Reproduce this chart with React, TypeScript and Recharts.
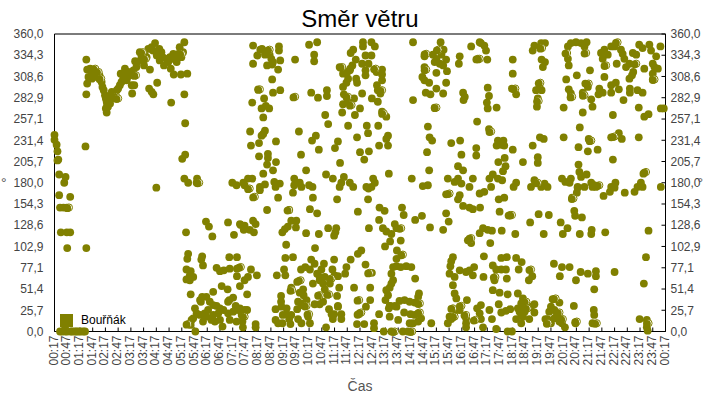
import { ScatterChart, Scatter, XAxis, YAxis, CartesianGrid, Legend, ReferenceLine, Label } from 'recharts'

const OLIVE = '#808000'

const tickLabels = [
  '00:17', '00:47', '01:17', '01:47', '02:17', '02:47', '03:17', '03:47', '04:17', '04:47', '05:17', '05:47',
  '06:17', '06:47', '07:17', '07:47', '08:17', '08:47', '09:17', '09:47', '10:17', '10:47', '11:17', '11:47',
  '12:17', '12:47', '13:17', '13:47', '14:17', '14:47', '15:17', '15:47', '16:17', '16:47', '17:17', '17:47',
  '18:17', '18:47', '19:17', '19:47', '20:17', '20:47', '21:17', '21:47', '22:17', '22:47', '23:17', '23:47', '00:17',
]
const minuteTicks = tickLabels.map((_, i) => i * 30)
const degreeTicks = [0, 25.7, 51.4, 77.1, 102.9, 128.6, 154.3, 180, 205.7, 231.4, 257.1, 282.9, 308.6, 334.3, 360]

// [minutes after 00:17, wind direction in degrees]
const earlyStart = [
  [0, 238], [0, 232], [5, 226], [7, 218], [9, 208], [7, 207], [11, 190], [26, 187], [23, 180], [11, 165], [37, 163],
  [13, 150], [21, 150], [29, 150], [15, 120], [29, 120], [37, 120], [30, 101], [75, 101],
  [13, 0], [18, 0], [25, 0], [30, 0], [38, 0], [42, 0], [48, 0], [52, 0], [57, 0], [62, 0], [68, 0], [72, 0], [25, 4],
  [75, 329], [73, 224], [75, 287],
]
const nightRise = [
  [77, 317], [84, 318], [80, 308], [77, 300], [88, 314], [91, 316], [95, 311], [88, 306], [99, 308], [106, 310], [107, 306],
  [111, 302], [113, 296], [116, 292], [119, 286], [121, 282], [123, 278], [124, 274], [121, 270], [123, 265], [129, 280],
  [131, 276], [134, 282], [138, 286], [142, 288], [150, 294], [154, 298], [158, 302], [156, 312], [162, 306], [166, 318],
  [168, 310], [174, 314], [170, 304], [178, 310], [182, 298], [188, 298], [183, 288], [186, 316], [190, 327], [193, 320],
  [201, 338], [205, 332], [211, 322], [209, 328], [217, 332], [221, 342], [229, 344], [225, 317], [223, 294], [229, 290],
  [233, 287], [242, 301], [237, 349], [247, 342], [241, 334], [252, 338], [248, 328], [258, 322], [264, 330], [272, 332],
  [274, 318], [280, 336], [284, 330], [288, 326], [281, 311], [298, 311], [313, 312], [306, 350], [295, 344], [303, 338],
  [299, 332], [275, 277], [306, 287], [308, 252], [308, 214], [301, 209], [306, 185], [315, 180], [336, 185], [335, 180],
  [240, 174], [419, 180], [429, 177], [126, 272], [127, 284], [135, 290], [147, 292], [165, 312], [172, 308], [195, 326],
  [213, 334], [232, 340], [245, 336], [255, 332], [268, 326], [278, 330], [292, 336],
]
const morning = [
  [310, 120], [315, 94], [313, 88], [311, 75], [321, 73], [319, 68], [311, 63], [327, 66], [319, 62], [321, 45], [357, 133],
  [364, 127], [372, 115], [409, 132], [437, 130], [423, 117], [348, 91], [346, 87], [350, 80], [382, 77], [390, 73], [399, 74],
  [412, 90], [413, 76], [430, 76], [430, 90], [430, 67], [437, 55], [394, 55], [408, 51], [374, 48], [343, 38], [348, 42],
  [358, 42], [345, 36], [366, 36], [331, 28], [374, 32], [382, 31], [390, 28], [412, 38], [421, 41], [409, 36], [427, 31],
  [335, 22], [343, 20], [354, 22], [362, 26], [374, 20], [386, 22], [398, 26], [409, 22], [421, 24], [433, 26], [323, 14],
  [350, 12], [370, 14], [390, 14], [396, 6], [413, 14], [429, 12], [332, 0], [321, 8], [327, 16], [358, 18], [378, 12],
  [439, 129], [448, 128], [468, 134], [474, 130], [446, 123], [460, 123], [470, 120], [437, 28], [448, 26], [454, 26],
  [441, 20], [443, 12], [444, 5], [474, 9], [474, 5], [463, 75], [477, 68], [456, 66], [448, 62], [454, 45],
  [468, 346], [489, 342], [485, 341], [529, 345], [529, 340], [478, 334], [496, 335], [507, 335], [511, 330], [468, 324],
  [515, 326], [501, 322], [513, 323], [532, 328], [527, 317], [513, 305], [480, 293], [515, 289], [532, 292], [494, 282],
  [466, 277], [488, 270], [498, 273], [506, 270], [492, 259], [461, 242], [496, 243], [492, 239], [488, 237], [522, 230],
  [463, 225], [482, 228], [482, 212], [503, 215], [503, 210], [501, 202], [522, 205], [492, 191], [515, 195], [445, 180],
  [456, 185], [466, 185], [448, 177], [484, 175], [496, 178], [518, 181], [531, 179], [521, 175], [484, 171], [527, 162],
  [501, 147], [524, 68], [534, 43], [534, 36], [535, 30], [521, 27], [521, 14], [527, 10], [538, 20], [537, 10],
]
const midday = [
  [567, 329], [600, 347], [619, 350], [612, 335], [612, 327], [605, 289], [621, 283], [642, 292], [642, 285], [638, 262],
  [645, 251], [576, 242], [616, 237], [607, 231], [668, 230], [661, 222], [623, 220], [581, 214], [673, 204], [593, 195],
  [640, 190], [656, 185], [565, 185], [565, 177], [578, 180], [582, 175], [600, 177], [608, 175], [682, 187], [676, 180],
  [672, 175], [696, 180], [704, 175], [562, 168], [609, 162], [666, 160], [553, 147], [602, 148], [619, 143], [558, 134],
  [570, 134], [543, 124], [550, 127], [537, 120], [569, 126], [593, 119], [623, 118], [645, 125], [664, 125], [662, 120],
  [659, 116], [546, 105], [614, 101], [544, 89], [562, 90], [659, 87], [605, 87], [613, 82], [635, 82], [541, 75], [544, 68],
  [581, 75], [591, 78], [602, 75], [619, 70], [629, 75], [625, 66], [637, 66], [655, 75], [660, 68], [668, 67], [688, 78],
  [685, 70], [572, 60], [625, 62], [609, 58], [633, 58], [649, 58], [671, 53], [558, 53], [586, 51], [578, 47], [587, 44],
  [637, 51], [666, 43], [594, 38], [586, 34], [633, 36], [625, 33], [613, 33], [668, 31], [574, 36], [582, 32], [572, 27],
  [647, 27], [547, 28], [598, 18], [547, 21], [558, 20], [553, 15], [574, 15], [582, 10], [556, 9], [602, 10], [640, 5],
  [653, 21], [659, 21], [656, 15], [676, 21], [676, 15], [668, 30], [704, 341], [698, 337], [727, 350], [727, 345], [747, 350],
  [755, 345], [733, 334], [747, 334], [710, 329], [702, 322], [697, 318], [672, 320], [680, 312], [690, 314], [696, 316],
  [692, 306], [688, 301], [680, 296], [725, 324], [740, 324], [733, 316], [733, 310], [711, 306], [713, 301], [759, 314],
  [772, 317], [772, 311], [772, 304], [760, 298], [762, 292], [768, 288], [682, 287], [706, 282], [725, 288], [748, 282],
  [762, 278], [692, 278], [680, 275], [678, 265], [720, 270], [708, 262], [772, 266], [782, 260], [692, 249], [736, 249],
  [763, 249], [713, 235], [739, 240], [786, 237], [782, 233], [786, 225], [765, 225], [720, 217], [741, 218], [730, 208],
  [788, 191], [751, 185], [735, 175], [747, 175], [755, 180], [740, 173], [739, 160], [715, 145], [766, 150], [778, 146],
  [765, 135], [741, 125], [774, 125], [782, 121], [794, 118], [791, 109], [779, 103], [723, 98], [715, 94], [698, 87], [733, 81],
  [748, 71], [706, 53], [744, 53], [791, 31], [744, 38], [734, 30], [765, 21], [713, 9], [730, 9], [753, 10], [753, 4],
  [782, 50], [786, 44], [780, 38], [790, 31], [790, 53], [794, 58], [794, 70], [798, 62], [798, 78], [790, 18], [788, 28],
]
const afternoon = [
  [845, 350], [910, 350], [917, 341], [872, 333], [892, 335], [900, 330], [912, 335], [923, 329], [896, 326], [908, 324],
  [916, 322], [872, 320], [900, 313], [925, 315], [867, 308], [872, 304], [883, 301], [923, 301], [900, 294], [875, 289],
  [886, 287], [916, 288], [845, 280], [896, 271], [880, 248], [884, 235], [890, 231], [878, 217], [883, 195], [842, 185],
  [868, 176], [880, 177], [927, 185], [951, 200], [963, 195], [935, 228], [956, 231], [959, 214], [951, 185], [943, 181],
  [959, 179], [978, 175], [986, 185], [996, 254], [994, 222], [994, 213], [955, 333], [953, 324], [982, 345], [1002, 350],
  [963, 289], [967, 284], [964, 280], [819, 150], [823, 141], [866, 140], [850, 135], [923, 143], [929, 133], [885, 126],
  [916, 123], [963, 152], [978, 150], [986, 148], [802, 130], [806, 125], [816, 110], [807, 98], [806, 88], [806, 79], [829, 79],
  [841, 78], [816, 78], [850, 64], [813, 37], [825, 38], [837, 36], [849, 35], [859, 46], [857, 42], [806, 30], [802, 31],
  [824, 23], [810, 14], [839, 21], [845, 10], [837, 10], [888, 10], [927, 10], [864, 16], [857, 12], [849, 20], [776, 0],
  [794, 0], [821, 0], [833, 0], [982, 107], [923, 166], [955, 165], [951, 160], [939, 90], [935, 85], [933, 79], [931, 70],
  [943, 66], [955, 74], [970, 72], [978, 74], [986, 68], [989, 78], [939, 56], [943, 46], [947, 40], [972, 38], [996, 28],
  [931, 18], [955, 26], [947, 26], [935, 15], [970, 16], [970, 10], [970, 5], [1002, 22],
  [1005, 349], [1013, 346], [1017, 340], [1020, 329], [1080, 329], [1080, 312], [1021, 295], [1024, 285], [1019, 277], [1021, 270],
  [1042, 271], [1078, 294], [1088, 287], [1024, 245], [1045, 231], [1058, 231], [1042, 225], [1053, 226], [1060, 225], [1080, 220],
  [1061, 210], [1046, 205], [1063, 200], [1057, 194], [1104, 205], [1033, 190], [1025, 185], [1045, 185], [1055, 183], [1029, 175],
  [1088, 180], [1082, 175], [1013, 169], [1002, 167], [1060, 162], [1047, 160], [1003, 150], [1049, 145], [1010, 125], [1002, 119],
  [1021, 123], [1031, 122], [1054, 122], [1086, 118], [1027, 107], [1012, 91], [1053, 89], [1066, 90], [1088, 89], [1101, 84],
  [1033, 80], [1041, 75], [1053, 75], [1064, 75], [1094, 75], [1011, 66], [1037, 62], [1066, 64], [1033, 50], [1049, 47],
  [1068, 45], [1092, 46], [1047, 33], [1005, 32], [1025, 26], [1074, 27], [1064, 25], [1053, 23], [1005, 15], [1031, 15],
  [1010, 5], [1041, 3], [1068, 0], [1078, 0],
]
const evening = [
  [1104, 40], [1100, 34], [1092, 28], [1108, 30], [1096, 24], [1108, 24], [1088, 15], [1100, 10], [1104, 18], [1119, 15],
  [1131, 23], [1131, 33], [1123, 30], [1100, 20], [1126, 67], [1118, 62], [1121, 132], [1141, 142], [1165, 141], [1153, 118],
  [1193, 132], [1209, 125], [1198, 118], [1238, 118], [1225, 146], [1227, 140], [1243, 138], [1266, 123], [1265, 118], [1298, 120],
  [1177, 82], [1196, 78], [1214, 78], [1191, 67], [1229, 62], [1240, 72], [1257, 70], [1276, 73], [1276, 67], [1320, 72],
  [1272, 51], [1224, 31], [1271, 26], [1272, 20], [1268, 10], [1228, 10], [1174, 39], [1190, 35], [1170, 30], [1166, 24],
  [1184, 20], [1162, 15], [1157, 15], [1170, 10], [1178, 16], [1190, 12], [1196, 10], [1203, 5], [1178, 26], [1220, 162],
  [1231, 168], [1233, 174], [1294, 164], [1309, 169], [1320, 174], [1344, 168], [1367, 169], [1400, 122], [1394, 90], [1389, 58],
  [1379, 15], [1396, 14], [1396, 5], [1398, 1],
  [1131, 346], [1127, 340], [1147, 349], [1156, 349], [1148, 329], [1156, 326], [1151, 320], [1143, 296], [1135, 292], [1148, 292],
  [1139, 282], [1137, 272], [1127, 225], [1144, 235], [1153, 233], [1139, 211], [1139, 204], [1131, 183], [1123, 175], [1147, 175],
  [1155, 179], [1162, 175], [1200, 271], [1206, 305], [1212, 322], [1210, 330], [1212, 293], [1217, 288], [1210, 345], [1217, 349],
  [1229, 350], [1241, 349], [1254, 350], [1249, 345], [1231, 310], [1262, 316], [1251, 300], [1257, 296], [1245, 289], [1265, 281],
  [1268, 272], [1245, 265], [1200, 235], [1259, 233], [1238, 247], [1235, 223], [1257, 218], [1280, 220], [1235, 202], [1237, 193],
  [1254, 190], [1241, 187], [1196, 185], [1204, 181], [1217, 185], [1214, 180], [1233, 175], [1249, 175], [1265, 180], [1272, 177],
  [1268, 175], [1276, 175], [1296, 341], [1288, 337], [1292, 330], [1304, 335], [1312, 345], [1320, 345], [1335, 341], [1339, 336],
  [1325, 324], [1343, 330], [1347, 320], [1355, 324], [1296, 308], [1363, 337], [1371, 335], [1378, 347], [1386, 343], [1364, 314],
  [1355, 306], [1361, 310], [1402, 347], [1406, 340], [1428, 345], [1418, 333], [1410, 324], [1390, 318], [1414, 320], [1422, 318],
  [1410, 312], [1410, 305], [1312, 298], [1323, 301], [1330, 293], [1312, 289], [1284, 294], [1292, 289], [1282, 287], [1341, 280],
  [1356, 294], [1356, 289], [1374, 292], [1386, 289], [1377, 271], [1316, 262], [1390, 260], [1400, 263], [1429, 270], [1436, 270],
  [1312, 235], [1330, 240], [1337, 233], [1377, 235], [1316, 208], [1388, 191], [1322, 180], [1312, 175], [1382, 180], [1374, 175],
  [1386, 175], [1429, 175],
]
// readings that show the lighter ring beside the dot
const ringed = [
  [34, 150], [146, 284], [341, 180], [315, 9], [460, 173], [472, 163], [507, 341], [484, 293], [567, 284], [678, 320], [692, 284],
  [700, 274], [757, 318], [772, 292], [776, 264], [876, 336], [905, 341], [876, 317], [900, 271], [998, 330], [439, 78], [448, 18],
  [553, 147], [594, 31], [600, 21], [560, 50], [580, 62], [625, 44], [647, 45], [653, 64], [718, 38], [718, 21], [723, 23], [743, 71],
  [821, 93], [817, 125], [861, 34], [861, 23], [843, 0], [802, 0], [931, 167], [939, 28], [959, 31], [943, 18], [970, 20], [992, 14],
  [978, 111], [982, 113], [1002, 330], [1029, 242], [1086, 294], [1149, 343], [1145, 301], [1141, 279], [1139, 180], [1208, 337],
  [1220, 284], [1253, 337], [1259, 300], [1249, 286], [1265, 231], [1284, 177], [1327, 350], [1300, 322], [1371, 324], [1414, 305],
  [1320, 236], [1394, 193], [1074, 141], [1078, 141], [1123, 75], [1039, 66], [1112, 36], [1115, 28], [1181, 40], [1190, 23],
  [1164, 10], [1198, 15], [1223, 161], [1231, 12], [1278, 10], [1400, 10], [96, 318], [104, 314], [110, 306], [150, 282], [192, 310],
  [215, 330], [208, 338], [300, 336],
]

const toPoints = (rows: number[][]) => rows.map(([t, d]) => ({ t, d }))
const dots = toPoints([...earlyStart, ...nightRise, ...morning, ...midday, ...afternoon, ...evening])
const rings = toPoints(ringed)

const Dot = ({ cx, cy }: any) => <circle cx={cx} cy={cy} r={3.9} fill={OLIVE} />

const RingDot = ({ cx, cy }: any) => (
  <g>
    <circle cx={cx} cy={cy} r={3.6} fill="#fff" stroke={OLIVE} strokeWidth={1} />
    <circle cx={cx - 1.6} cy={cy + 0.6} r={3.9} fill={OLIVE} />
  </g>
)

const NoMark = () => null

const MinuteTick = ({ x, y, index }: any) => (
  <text
    transform={`translate(${x + 3} ${y + 6}) rotate(-90)`}
    textAnchor="end"
    fontSize={12}
    fill="#444"
    fontFamily="Liberation Sans"
  >
    {tickLabels[index]}
  </text>
)

const formatDegree = (v: number) => v.toFixed(1).replace('.', ',')
const axisFont = { fontSize: 12, fill: '#444', fontFamily: 'Liberation Sans' }

export default function App() {
  return (
    <div style={{ position: 'absolute', left: 0, top: 0, width: 720, height: 400, background: '#fff' }}>
      <div
        style={{
          position: 'absolute',
          left: 0,
          top: 5,
          width: 720,
          textAlign: 'center',
          fontFamily: 'Liberation Sans',
          fontSize: 24,
          lineHeight: '28px',
        }}
      >
        Směr větru
      </div>
      <ScatterChart width={720} height={400} margin={{ top: 34, right: 0, bottom: 0, left: 0 }}>
        <CartesianGrid horizontal vertical={false} stroke="#eeeeee" />
        <XAxis
          type="number"
          dataKey="t"
          domain={[0, 1440]}
          ticks={minuteTicks}
          interval={0}
          tick={<MinuteTick />}
          tickSize={-4}
          height={68.5}
          stroke="#000"
          tickLine={{ stroke: '#000' }}
        >
          <Label value="Čas" position="insideBottom" offset={9} fontSize={14} fill="#555" fontFamily="Liberation Sans" />
        </XAxis>
        <YAxis
          yAxisId="left"
          type="number"
          dataKey="d"
          domain={[0, 360]}
          ticks={degreeTicks}
          interval={0}
          tickFormatter={formatDegree}
          tick={axisFont}
          tickLine={false}
          tickMargin={5}
          width={54.5}
          stroke="#000"
        >
          <Label value="°" position="insideLeft" offset={1} fontSize={14} fill="#555" fontFamily="Liberation Sans" />
        </YAxis>
        <YAxis
          yAxisId="right"
          orientation="right"
          type="number"
          dataKey="d"
          domain={[0, 360]}
          ticks={degreeTicks}
          interval={0}
          tickFormatter={formatDegree}
          tick={axisFont}
          tickSize={-4}
          tickMargin={9}
          width={54.5}
          stroke="#000"
        >
          <Label value="°" position="insideRight" offset={17} fontSize={14} fill="#555" fontFamily="Liberation Sans" />
        </YAxis>
        <ReferenceLine yAxisId="left" y={360} stroke="#000" />
        <Legend
          layout="horizontal"
          align="center"
          verticalAlign="middle"
          iconSize={13}
          wrapperStyle={{ left: 60, top: 313, width: 'auto', fontFamily: 'Liberation Sans', fontSize: 12 }}
          formatter={(value: string) => <span style={{ color: '#000', marginLeft: 4 }}>{value}</span>}
        />
        <Scatter
          name="Bouřňák"
          yAxisId="left"
          data={dots}
          fill={OLIVE}
          shape={Dot}
          legendType="square"
          isAnimationActive={false}
        />
        <Scatter
          yAxisId="left"
          data={rings}
          fill={OLIVE}
          shape={RingDot}
          legendType="none"
          isAnimationActive={false}
        />
        <Scatter yAxisId="right" data={rings} shape={NoMark} legendType="none" isAnimationActive={false} />
      </ScatterChart>
    </div>
  )
}
